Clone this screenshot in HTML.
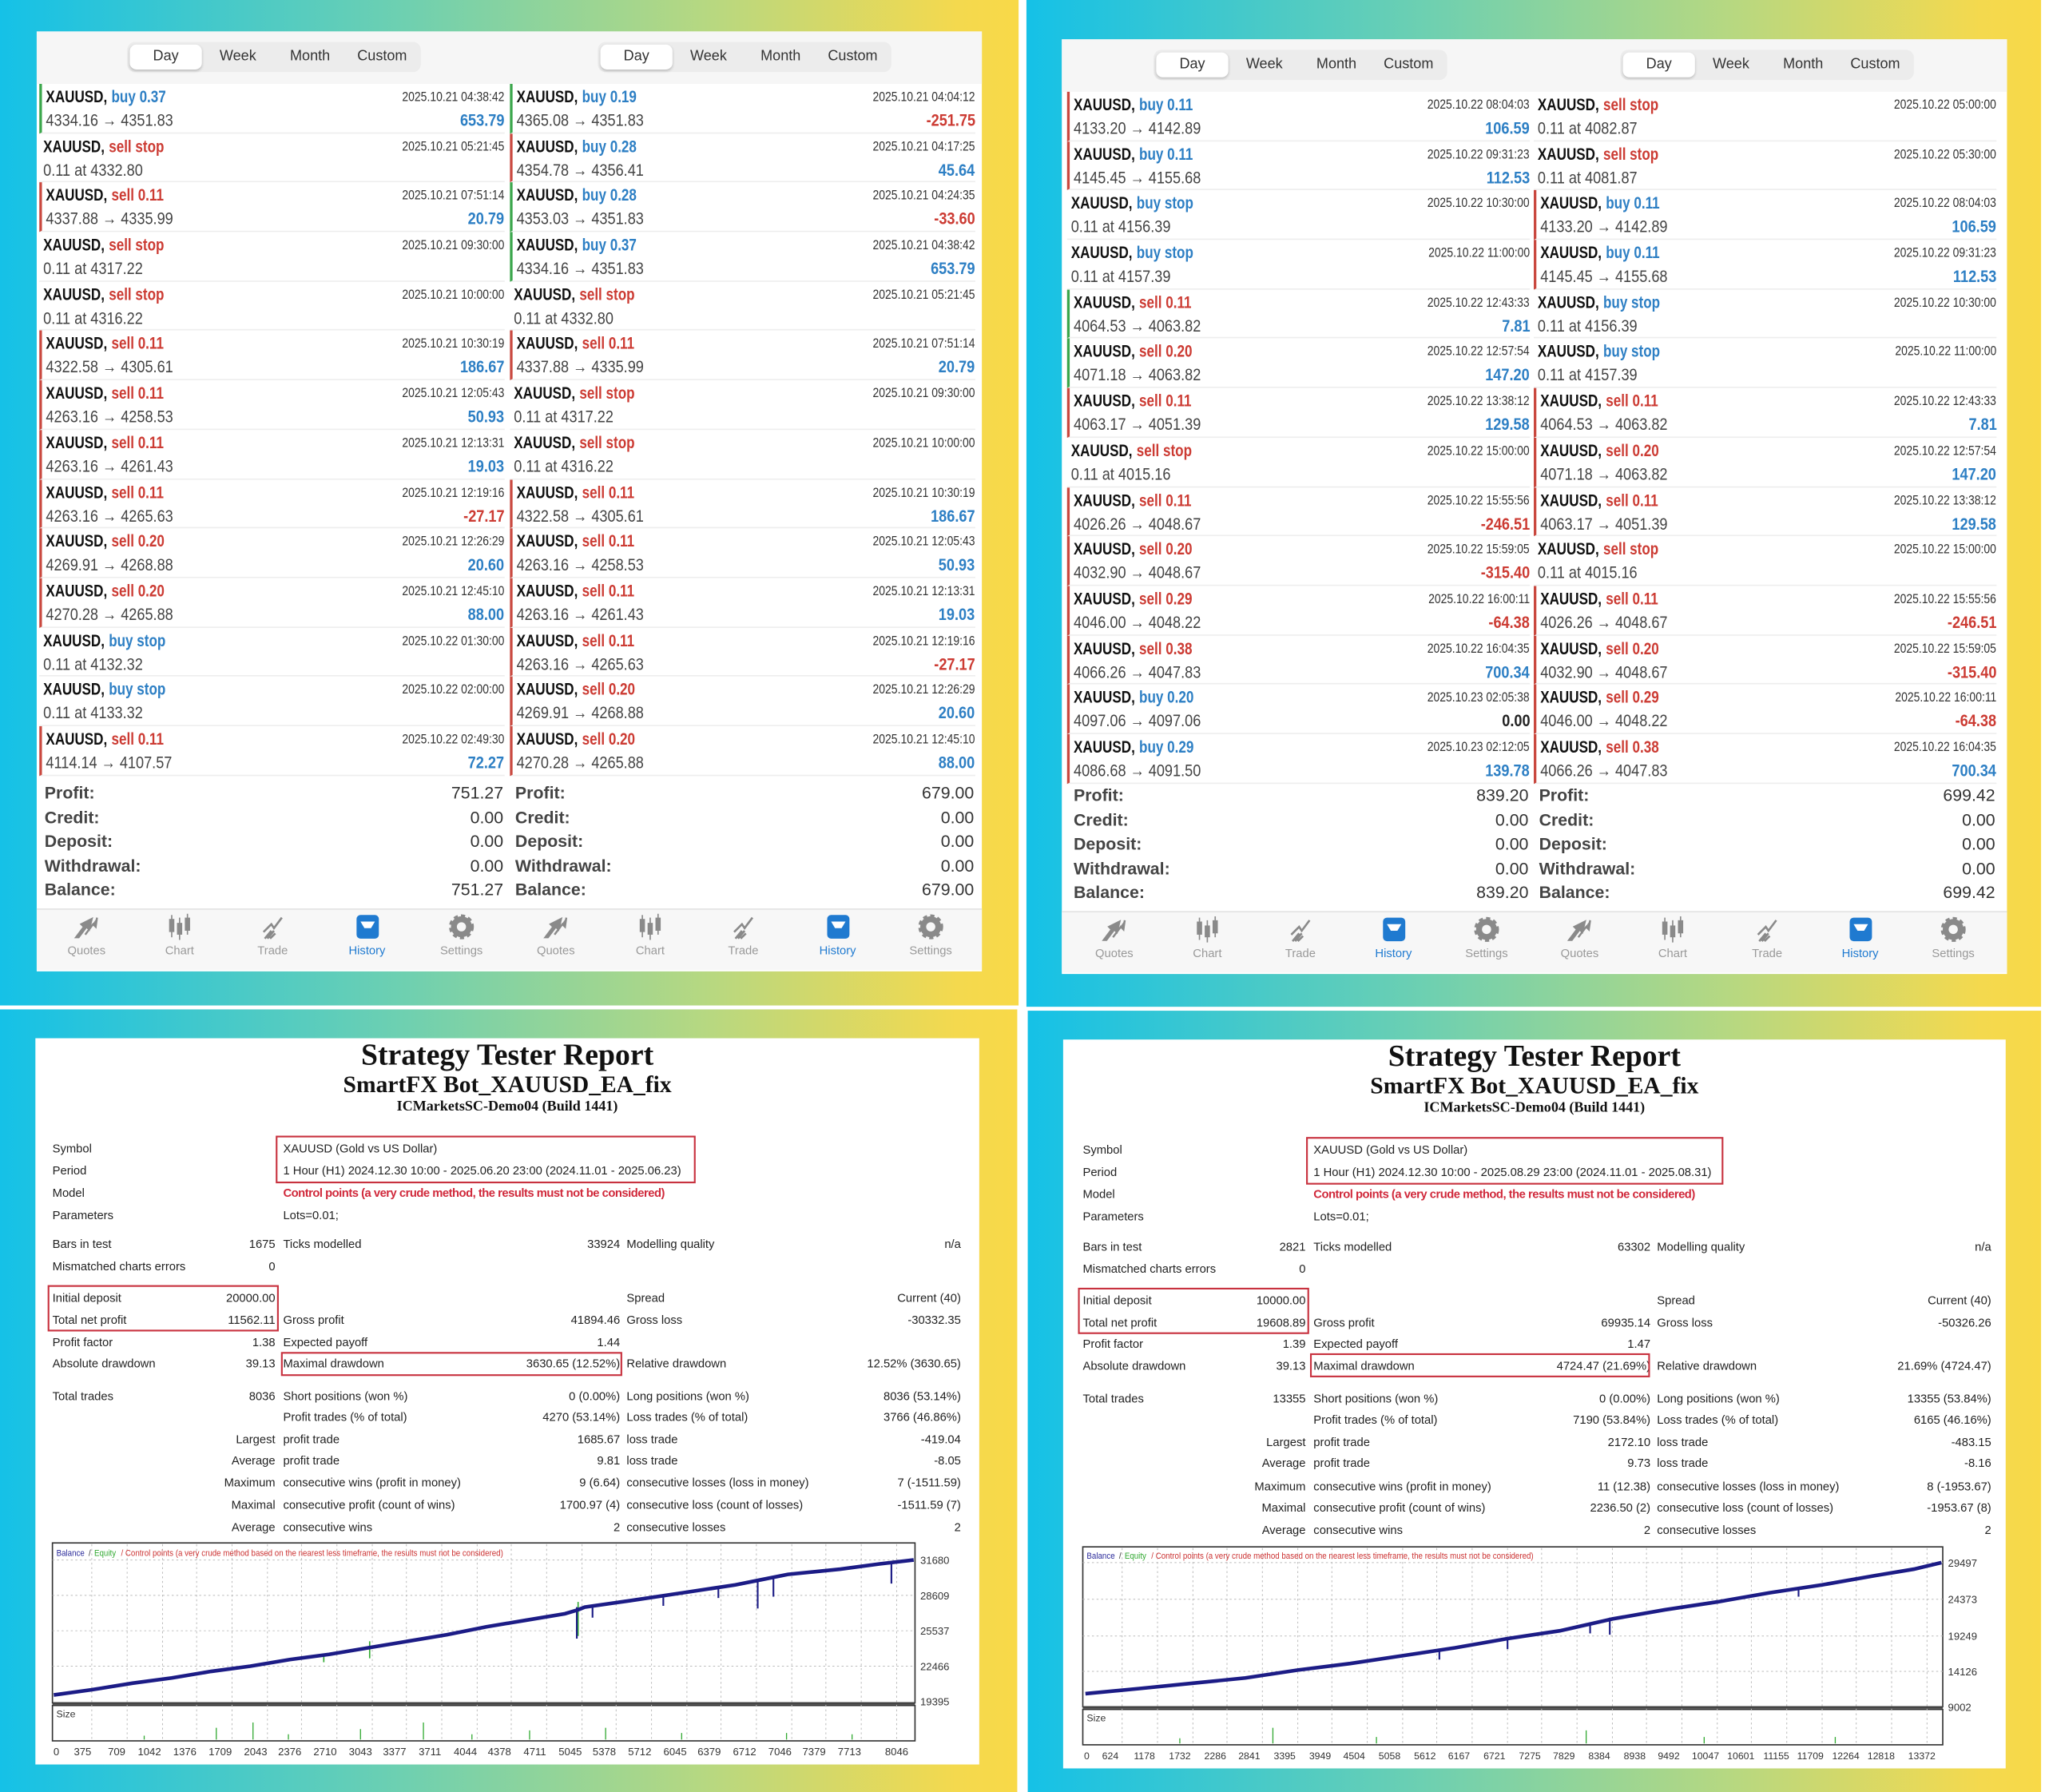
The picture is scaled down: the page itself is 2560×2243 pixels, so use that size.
<!DOCTYPE html>
<html><head><meta charset="utf-8">
<style>
*{margin:0;padding:0;box-sizing:border-box}
body{width:2560px;height:2243px;overflow:hidden;background:#fff}
#root{position:absolute;left:0;top:0;width:1560px;height:1367px;transform:scale(1.641026,1.640820);transform-origin:0 0;font-family:"Liberation Sans",sans-serif}
.q{position:absolute;background:linear-gradient(90deg,#15c1e7 0%,#22c3df 6%,#6fd0b0 40%,#b8d880 70%,#f4d94e 94%,#f8d948 100%)}
.pan{position:absolute;background:#fff}
.tabs{position:absolute;height:23px;width:224px;background:#ececec;border-radius:6px;display:flex;font-size:11px;color:#333;padding:2px}
.tabs span{flex:1;text-align:center;line-height:19px}
.tabs span:first-child{background:#fff;border-radius:5px;box-shadow:0 1px 2px rgba(0,0,0,.2)}
.col{position:absolute}
.r{position:relative;height:37.7px;border-bottom:1px solid #eee;font-size:13px;line-height:17px;padding:1px 0 0 3px;color:#444;white-space:nowrap}
.r.g{border-left:2px solid #3aa64b}.r.x{border-left:2px solid #c9483f}
.r b{color:#111;display:inline-block;transform:scaleX(.8);transform-origin:0 0;margin-right:-12px}
.r s{text-decoration:none;font-weight:bold;display:inline-block;transform:scaleX(.8);transform-origin:0 0}
.B{color:#2d7fc4}.R{color:#cc3b33}
.r i{position:absolute;right:0;top:2px;font-style:normal;font-size:10px;color:#333;transform:scaleX(.85);transform-origin:100% 0}
.r p{margin-top:1px;transform:scaleX(.85);transform-origin:0 0}
.r u{position:absolute;right:0;top:19px;text-decoration:none;font-weight:bold;transform:scaleX(.85);transform-origin:100% 0}
.sum{position:absolute;font-size:13px;color:#333}
.sum div{position:relative;height:18.5px;line-height:18.5px;font-weight:bold;color:#444}
.sum div span{position:absolute;right:0;font-weight:normal;color:#333}
.nav{position:absolute;height:47px;background:#f7f7f7;border-top:1px solid #e2e2e2}
.ni{position:absolute;top:4px;width:50px;margin-left:-25px;text-align:center;font-size:9px;color:#999}
.ni svg{display:block;margin:0 auto 3px}
.ni.h{color:#1f7ad0}
.rep{position:absolute;background:#fff}
.tt{position:absolute;left:0;width:100%;text-align:center;font-family:"Liberation Serif",serif;font-weight:bold;color:#111}
.tb{position:absolute;width:693px;font-size:9px;color:#222}
.rw{position:absolute;left:0;width:693px;height:12px;line-height:12px;white-space:nowrap}
.rw span{position:absolute}
.a{left:0}.av{right:523px}.b{left:176px}.bv{right:260px}.c{left:438px}.cv{right:0}
.red{color:#d0283a;font-weight:bold;letter-spacing:-0.3px}
</style></head><body><div id="root">
<div class="q" style="left:0;top:0;width:777px;height:767px"></div>
<div class="q" style="left:783px;top:0;width:774px;height:768px"></div>
<div class="q" style="left:0;top:770px;width:776px;height:597px"></div>
<div class="q" style="left:784px;top:771px;width:773px;height:596px"></div>

<!-- TOP LEFT -->
<div class="pan" style="left:28px;top:24px;width:721px;height:717px">
<div style="position:absolute;left:0;top:0;width:721px;height:40px;background:#f6f6f6"></div>
</div>
<div class="tabs" style="left:97px;top:32px"><span>Day</span><span>Week</span><span>Month</span><span>Custom</span></div>
<div class="tabs" style="left:456px;top:32px"><span>Day</span><span>Week</span><span>Month</span><span>Custom</span></div>

<div class="col" style="left:30px;top:64px;width:355px">
<div class="r g"><b>XAUUSD,</b> <s class="B">buy 0.37</s><i>2025.10.21 04:38:42</i><p>4334.16 → 4351.83</p><u class="B">653.79</u></div>
<div class="r"><b>XAUUSD,</b> <s class="R">sell stop</s><i>2025.10.21 05:21:45</i><p>0.11 at 4332.80</p></div>
<div class="r x"><b>XAUUSD,</b> <s class="R">sell 0.11</s><i>2025.10.21 07:51:14</i><p>4337.88 → 4335.99</p><u class="B">20.79</u></div>
<div class="r"><b>XAUUSD,</b> <s class="R">sell stop</s><i>2025.10.21 09:30:00</i><p>0.11 at 4317.22</p></div>
<div class="r"><b>XAUUSD,</b> <s class="R">sell stop</s><i>2025.10.21 10:00:00</i><p>0.11 at 4316.22</p></div>
<div class="r x"><b>XAUUSD,</b> <s class="R">sell 0.11</s><i>2025.10.21 10:30:19</i><p>4322.58 → 4305.61</p><u class="B">186.67</u></div>
<div class="r x"><b>XAUUSD,</b> <s class="R">sell 0.11</s><i>2025.10.21 12:05:43</i><p>4263.16 → 4258.53</p><u class="B">50.93</u></div>
<div class="r x"><b>XAUUSD,</b> <s class="R">sell 0.11</s><i>2025.10.21 12:13:31</i><p>4263.16 → 4261.43</p><u class="B">19.03</u></div>
<div class="r x"><b>XAUUSD,</b> <s class="R">sell 0.11</s><i>2025.10.21 12:19:16</i><p>4263.16 → 4265.63</p><u class="R">-27.17</u></div>
<div class="r x"><b>XAUUSD,</b> <s class="R">sell 0.20</s><i>2025.10.21 12:26:29</i><p>4269.91 → 4268.88</p><u class="B">20.60</u></div>
<div class="r x"><b>XAUUSD,</b> <s class="R">sell 0.20</s><i>2025.10.21 12:45:10</i><p>4270.28 → 4265.88</p><u class="B">88.00</u></div>
<div class="r"><b>XAUUSD,</b> <s class="B">buy stop</s><i>2025.10.22 01:30:00</i><p>0.11 at 4132.32</p></div>
<div class="r"><b>XAUUSD,</b> <s class="B">buy stop</s><i>2025.10.22 02:00:00</i><p>0.11 at 4133.32</p></div>
<div class="r x"><b>XAUUSD,</b> <s class="R">sell 0.11</s><i>2025.10.22 02:49:30</i><p>4114.14 → 4107.57</p><u class="B">72.27</u></div>
</div>
<div class="col" style="left:389px;top:64px;width:355px">
<div class="r g"><b>XAUUSD,</b> <s class="B">buy 0.19</s><i>2025.10.21 04:04:12</i><p>4365.08 → 4351.83</p><u class="R">-251.75</u></div>
<div class="r x"><b>XAUUSD,</b> <s class="B">buy 0.28</s><i>2025.10.21 04:17:25</i><p>4354.78 → 4356.41</p><u class="B">45.64</u></div>
<div class="r g"><b>XAUUSD,</b> <s class="B">buy 0.28</s><i>2025.10.21 04:24:35</i><p>4353.03 → 4351.83</p><u class="R">-33.60</u></div>
<div class="r g"><b>XAUUSD,</b> <s class="B">buy 0.37</s><i>2025.10.21 04:38:42</i><p>4334.16 → 4351.83</p><u class="B">653.79</u></div>
<div class="r"><b>XAUUSD,</b> <s class="R">sell stop</s><i>2025.10.21 05:21:45</i><p>0.11 at 4332.80</p></div>
<div class="r x"><b>XAUUSD,</b> <s class="R">sell 0.11</s><i>2025.10.21 07:51:14</i><p>4337.88 → 4335.99</p><u class="B">20.79</u></div>
<div class="r"><b>XAUUSD,</b> <s class="R">sell stop</s><i>2025.10.21 09:30:00</i><p>0.11 at 4317.22</p></div>
<div class="r"><b>XAUUSD,</b> <s class="R">sell stop</s><i>2025.10.21 10:00:00</i><p>0.11 at 4316.22</p></div>
<div class="r x"><b>XAUUSD,</b> <s class="R">sell 0.11</s><i>2025.10.21 10:30:19</i><p>4322.58 → 4305.61</p><u class="B">186.67</u></div>
<div class="r x"><b>XAUUSD,</b> <s class="R">sell 0.11</s><i>2025.10.21 12:05:43</i><p>4263.16 → 4258.53</p><u class="B">50.93</u></div>
<div class="r x"><b>XAUUSD,</b> <s class="R">sell 0.11</s><i>2025.10.21 12:13:31</i><p>4263.16 → 4261.43</p><u class="B">19.03</u></div>
<div class="r x"><b>XAUUSD,</b> <s class="R">sell 0.11</s><i>2025.10.21 12:19:16</i><p>4263.16 → 4265.63</p><u class="R">-27.17</u></div>
<div class="r x"><b>XAUUSD,</b> <s class="R">sell 0.20</s><i>2025.10.21 12:26:29</i><p>4269.91 → 4268.88</p><u class="B">20.60</u></div>
<div class="r x"><b>XAUUSD,</b> <s class="R">sell 0.20</s><i>2025.10.21 12:45:10</i><p>4270.28 → 4265.88</p><u class="B">88.00</u></div>
</div>
<div class="sum" style="left:34px;top:596px;width:350px"><div>Profit:<span>751.27</span></div><div>Credit:<span>0.00</span></div><div>Deposit:<span>0.00</span></div><div>Withdrawal:<span>0.00</span></div><div>Balance:<span>751.27</span></div></div>
<div class="sum" style="left:393px;top:596px;width:350px"><div>Profit:<span>679.00</span></div><div>Credit:<span>0.00</span></div><div>Deposit:<span>0.00</span></div><div>Withdrawal:<span>0.00</span></div><div>Balance:<span>679.00</span></div></div>

<!-- TOP RIGHT -->
<div class="pan" style="left:810px;top:30px;width:721px;height:713px">
<div style="position:absolute;left:0;top:0;width:721px;height:40px;background:#f6f6f6"></div>
</div>
<div class="tabs" style="left:880px;top:38px"><span>Day</span><span>Week</span><span>Month</span><span>Custom</span></div>
<div class="tabs" style="left:1236px;top:38px"><span>Day</span><span>Week</span><span>Month</span><span>Custom</span></div>

<div class="col" style="left:814px;top:70px;width:353px">
<div class="r x"><b>XAUUSD,</b> <s class="B">buy 0.11</s><i>2025.10.22 08:04:03</i><p>4133.20 → 4142.89</p><u class="B">106.59</u></div>
<div class="r x"><b>XAUUSD,</b> <s class="B">buy 0.11</s><i>2025.10.22 09:31:23</i><p>4145.45 → 4155.68</p><u class="B">112.53</u></div>
<div class="r"><b>XAUUSD,</b> <s class="B">buy stop</s><i>2025.10.22 10:30:00</i><p>0.11 at 4156.39</p></div>
<div class="r"><b>XAUUSD,</b> <s class="B">buy stop</s><i>2025.10.22 11:00:00</i><p>0.11 at 4157.39</p></div>
<div class="r g"><b>XAUUSD,</b> <s class="R">sell 0.11</s><i>2025.10.22 12:43:33</i><p>4064.53 → 4063.82</p><u class="B">7.81</u></div>
<div class="r g"><b>XAUUSD,</b> <s class="R">sell 0.20</s><i>2025.10.22 12:57:54</i><p>4071.18 → 4063.82</p><u class="B">147.20</u></div>
<div class="r x"><b>XAUUSD,</b> <s class="R">sell 0.11</s><i>2025.10.22 13:38:12</i><p>4063.17 → 4051.39</p><u class="B">129.58</u></div>
<div class="r"><b>XAUUSD,</b> <s class="R">sell stop</s><i>2025.10.22 15:00:00</i><p>0.11 at 4015.16</p></div>
<div class="r x"><b>XAUUSD,</b> <s class="R">sell 0.11</s><i>2025.10.22 15:55:56</i><p>4026.26 → 4048.67</p><u class="R">-246.51</u></div>
<div class="r x"><b>XAUUSD,</b> <s class="R">sell 0.20</s><i>2025.10.22 15:59:05</i><p>4032.90 → 4048.67</p><u class="R">-315.40</u></div>
<div class="r x"><b>XAUUSD,</b> <s class="R">sell 0.29</s><i>2025.10.22 16:00:11</i><p>4046.00 → 4048.22</p><u class="R">-64.38</u></div>
<div class="r x"><b>XAUUSD,</b> <s class="R">sell 0.38</s><i>2025.10.22 16:04:35</i><p>4066.26 → 4047.83</p><u class="B">700.34</u></div>
<div class="r x"><b>XAUUSD,</b> <s class="B">buy 0.20</s><i>2025.10.23 02:05:38</i><p>4097.06 → 4097.06</p><u style="color:#222">0.00</u></div>
<div class="r x"><b>XAUUSD,</b> <s class="B">buy 0.29</s><i>2025.10.23 02:12:05</i><p>4086.68 → 4091.50</p><u class="B">139.78</u></div>
</div>
<div class="col" style="left:1170px;top:70px;width:353px">
<div class="r"><b>XAUUSD,</b> <s class="R">sell stop</s><i>2025.10.22 05:00:00</i><p>0.11 at 4082.87</p></div>
<div class="r"><b>XAUUSD,</b> <s class="R">sell stop</s><i>2025.10.22 05:30:00</i><p>0.11 at 4081.87</p></div>
<div class="r x"><b>XAUUSD,</b> <s class="B">buy 0.11</s><i>2025.10.22 08:04:03</i><p>4133.20 → 4142.89</p><u class="B">106.59</u></div>
<div class="r x"><b>XAUUSD,</b> <s class="B">buy 0.11</s><i>2025.10.22 09:31:23</i><p>4145.45 → 4155.68</p><u class="B">112.53</u></div>
<div class="r"><b>XAUUSD,</b> <s class="B">buy stop</s><i>2025.10.22 10:30:00</i><p>0.11 at 4156.39</p></div>
<div class="r"><b>XAUUSD,</b> <s class="B">buy stop</s><i>2025.10.22 11:00:00</i><p>0.11 at 4157.39</p></div>
<div class="r x"><b>XAUUSD,</b> <s class="R">sell 0.11</s><i>2025.10.22 12:43:33</i><p>4064.53 → 4063.82</p><u class="B">7.81</u></div>
<div class="r x"><b>XAUUSD,</b> <s class="R">sell 0.20</s><i>2025.10.22 12:57:54</i><p>4071.18 → 4063.82</p><u class="B">147.20</u></div>
<div class="r x"><b>XAUUSD,</b> <s class="R">sell 0.11</s><i>2025.10.22 13:38:12</i><p>4063.17 → 4051.39</p><u class="B">129.58</u></div>
<div class="r"><b>XAUUSD,</b> <s class="R">sell stop</s><i>2025.10.22 15:00:00</i><p>0.11 at 4015.16</p></div>
<div class="r x"><b>XAUUSD,</b> <s class="R">sell 0.11</s><i>2025.10.22 15:55:56</i><p>4026.26 → 4048.67</p><u class="R">-246.51</u></div>
<div class="r x"><b>XAUUSD,</b> <s class="R">sell 0.20</s><i>2025.10.22 15:59:05</i><p>4032.90 → 4048.67</p><u class="R">-315.40</u></div>
<div class="r x"><b>XAUUSD,</b> <s class="R">sell 0.29</s><i>2025.10.22 16:00:11</i><p>4046.00 → 4048.22</p><u class="R">-64.38</u></div>
<div class="r x"><b>XAUUSD,</b> <s class="R">sell 0.38</s><i>2025.10.22 16:04:35</i><p>4066.26 → 4047.83</p><u class="B">700.34</u></div>
</div>
<div class="sum" style="left:819px;top:598px;width:347px"><div>Profit:<span>839.20</span></div><div>Credit:<span>0.00</span></div><div>Deposit:<span>0.00</span></div><div>Withdrawal:<span>0.00</span></div><div>Balance:<span>839.20</span></div></div>
<div class="sum" style="left:1174px;top:598px;width:348px"><div>Profit:<span>699.42</span></div><div>Credit:<span>0.00</span></div><div>Deposit:<span>0.00</span></div><div>Withdrawal:<span>0.00</span></div><div>Balance:<span>699.42</span></div></div>

<!-- NAV BARS -->
<div class="nav" style="left:28px;top:693px;width:721px"></div>
<div class="nav" style="left:810px;top:695px;width:721px"></div>
<svg width="0" height="0" style="position:absolute"><defs>
<g id="iq"><path d="M2 18 L8 10 L6 8 L14 4 L12 12 L10 10 L4 18Z M9 16 L15 8 L17 10 L18 3" fill="#8a8a8a" stroke="#8a8a8a" stroke-width="1.5"/></g>
<g id="ic" fill="#8a8a8a"><rect x="2" y="4" width="4" height="10"/><rect x="8" y="7" width="4" height="9"/><rect x="14" y="3" width="4" height="10"/><rect x="3.5" y="1" width="1" height="17"/><rect x="9.5" y="3" width="1" height="17"/><rect x="15.5" y="0" width="1" height="16"/></g>
<g id="it" fill="none" stroke="#8a8a8a" stroke-width="1.6"><path d="M3 14 L9 8 L11 11 L17 3"/><path d="M4 19 L9 13 M6 19 L11 13 M8 19 L12 15"/></g>
<g id="ih"><rect x="2" y="1" width="17" height="18" rx="3" fill="#1f7ad0"/><path d="M5 6 L16 6 L13 11 L8 11Z" fill="#fff"/></g>
<g id="is"><circle cx="10" cy="10" r="8" fill="#8a8a8a" stroke="#8a8a8a" stroke-width="3" stroke-dasharray="3 2.3"/><circle cx="10" cy="10" r="3.5" fill="#f7f7f7"/></g>
</defs></svg>
<div class="ni" style="left:66px;top:697px"><svg width="20" height="20"><use href="#iq"/></svg>Quotes</div>
<div class="ni" style="left:137px;top:697px"><svg width="20" height="20"><use href="#ic"/></svg>Chart</div>
<div class="ni" style="left:208px;top:697px"><svg width="20" height="20"><use href="#it"/></svg>Trade</div>
<div class="ni h" style="left:280px;top:697px"><svg width="20" height="20"><use href="#ih"/></svg>History</div>
<div class="ni" style="left:352px;top:697px"><svg width="20" height="20"><use href="#is"/></svg>Settings</div>
<div class="ni" style="left:424px;top:697px"><svg width="20" height="20"><use href="#iq"/></svg>Quotes</div>
<div class="ni" style="left:496px;top:697px"><svg width="20" height="20"><use href="#ic"/></svg>Chart</div>
<div class="ni" style="left:567px;top:697px"><svg width="20" height="20"><use href="#it"/></svg>Trade</div>
<div class="ni h" style="left:639px;top:697px"><svg width="20" height="20"><use href="#ih"/></svg>History</div>
<div class="ni" style="left:710px;top:697px"><svg width="20" height="20"><use href="#is"/></svg>Settings</div>
<div class="ni" style="left:850px;top:699px"><svg width="20" height="20"><use href="#iq"/></svg>Quotes</div>
<div class="ni" style="left:921px;top:699px"><svg width="20" height="20"><use href="#ic"/></svg>Chart</div>
<div class="ni" style="left:992px;top:699px"><svg width="20" height="20"><use href="#it"/></svg>Trade</div>
<div class="ni h" style="left:1063px;top:699px"><svg width="20" height="20"><use href="#ih"/></svg>History</div>
<div class="ni" style="left:1134px;top:699px"><svg width="20" height="20"><use href="#is"/></svg>Settings</div>
<div class="ni" style="left:1205px;top:699px"><svg width="20" height="20"><use href="#iq"/></svg>Quotes</div>
<div class="ni" style="left:1276px;top:699px"><svg width="20" height="20"><use href="#ic"/></svg>Chart</div>
<div class="ni" style="left:1348px;top:699px"><svg width="20" height="20"><use href="#it"/></svg>Trade</div>
<div class="ni h" style="left:1419px;top:699px"><svg width="20" height="20"><use href="#ih"/></svg>History</div>
<div class="ni" style="left:1490px;top:699px"><svg width="20" height="20"><use href="#is"/></svg>Settings</div>

<!-- BOTTOM LEFT REPORT -->
<div class="rep" style="left:27px;top:792px;width:720px;height:554px">
<div class="tt" style="top:0;font-size:23px">Strategy Tester Report</div>
<div class="tt" style="top:25px;font-size:18px">SmartFX Bot_XAUUSD_EA_fix</div>
<div class="tt" style="top:46px;font-size:11px">ICMarketsSC-Demo04 (Build 1441)</div>
</div>
<div class="tb" style="left:40px;top:0">
<div class="rw" style="top:870px"><span class="a">Symbol</span><span class="b">XAUUSD (Gold vs US Dollar)</span></div>
<div class="rw" style="top:887px"><span class="a">Period</span><span class="b">1 Hour (H1) 2024.12.30 10:00 - 2025.06.20 23:00 (2024.11.01 - 2025.06.23)</span></div>
<div class="rw" style="top:904px"><span class="a">Model</span><span class="b red">Control points (a very crude method, the results must not be considered)</span></div>
<div class="rw" style="top:921px"><span class="a">Parameters</span><span class="b">Lots=0.01;</span></div>
<div class="rw" style="top:943px"><span class="a">Bars in test</span><span class="av">1675</span><span class="b">Ticks modelled</span><span class="bv">33924</span><span class="c">Modelling quality</span><span class="cv">n/a</span></div>
<div class="rw" style="top:960px"><span class="a">Mismatched charts errors</span><span class="av">0</span></div>
<div class="rw" style="top:984px"><span class="a">Initial deposit</span><span class="av">20000.00</span><span class="c">Spread</span><span class="cv">Current (40)</span></div>
<div class="rw" style="top:1001px"><span class="a">Total net profit</span><span class="av">11562.11</span><span class="b">Gross profit</span><span class="bv">41894.46</span><span class="c">Gross loss</span><span class="cv">-30332.35</span></div>
<div class="rw" style="top:1018px"><span class="a">Profit factor</span><span class="av">1.38</span><span class="b">Expected payoff</span><span class="bv">1.44</span></div>
<div class="rw" style="top:1034px"><span class="a">Absolute drawdown</span><span class="av">39.13</span><span class="b">Maximal drawdown</span><span class="bv">3630.65 (12.52%)</span><span class="c">Relative drawdown</span><span class="cv">12.52% (3630.65)</span></div>
<div class="rw" style="top:1059px"><span class="a">Total trades</span><span class="av">8036</span><span class="b">Short positions (won %)</span><span class="bv">0 (0.00%)</span><span class="c">Long positions (won %)</span><span class="cv">8036 (53.14%)</span></div>
<div class="rw" style="top:1075px"><span class="b">Profit trades (% of total)</span><span class="bv">4270 (53.14%)</span><span class="c">Loss trades (% of total)</span><span class="cv">3766 (46.86%)</span></div>
<div class="rw" style="top:1092px"><span class="av">Largest</span><span class="b">profit trade</span><span class="bv">1685.67</span><span class="c">loss trade</span><span class="cv">-419.04</span></div>
<div class="rw" style="top:1108px"><span class="av">Average</span><span class="b">profit trade</span><span class="bv">9.81</span><span class="c">loss trade</span><span class="cv">-8.05</span></div>
<div class="rw" style="top:1125px"><span class="av">Maximum</span><span class="b">consecutive wins (profit in money)</span><span class="bv">9 (6.64)</span><span class="c">consecutive losses (loss in money)</span><span class="cv">7 (-1511.59)</span></div>
<div class="rw" style="top:1142px"><span class="av">Maximal</span><span class="b">consecutive profit (count of wins)</span><span class="bv">1700.97 (4)</span><span class="c">consecutive loss (count of losses)</span><span class="cv">-1511.59 (7)</span></div>
<div class="rw" style="top:1159px"><span class="av">Average</span><span class="b">consecutive wins</span><span class="bv">2</span><span class="c">consecutive losses</span><span class="cv">2</span></div>
</div>

<!-- BOTTOM RIGHT REPORT -->
<div class="rep" style="left:811px;top:793px;width:719px;height:556px">
<div class="tt" style="top:0;font-size:23px">Strategy Tester Report</div>
<div class="tt" style="top:25px;font-size:18px">SmartFX Bot_XAUUSD_EA_fix</div>
<div class="tt" style="top:46px;font-size:11px">ICMarketsSC-Demo04 (Build 1441)</div>
</div>
<div class="tb" style="left:826px;top:0;width:691px">
<div class="rw" style="top:871px"><span class="a">Symbol</span><span class="b">XAUUSD (Gold vs US Dollar)</span></div>
<div class="rw" style="top:888px"><span class="a">Period</span><span class="b">1 Hour (H1) 2024.12.30 10:00 - 2025.08.29 23:00 (2024.11.01 - 2025.08.31)</span></div>
<div class="rw" style="top:905px"><span class="a">Model</span><span class="b red">Control points (a very crude method, the results must not be considered)</span></div>
<div class="rw" style="top:922px"><span class="a">Parameters</span><span class="b">Lots=0.01;</span></div>
<div class="rw" style="top:945px"><span class="a">Bars in test</span><span class="av">2821</span><span class="b">Ticks modelled</span><span class="bv">63302</span><span class="c">Modelling quality</span><span class="cv">n/a</span></div>
<div class="rw" style="top:962px"><span class="a">Mismatched charts errors</span><span class="av">0</span></div>
<div class="rw" style="top:986px"><span class="a">Initial deposit</span><span class="av">10000.00</span><span class="c">Spread</span><span class="cv">Current (40)</span></div>
<div class="rw" style="top:1003px"><span class="a">Total net profit</span><span class="av">19608.89</span><span class="b">Gross profit</span><span class="bv">69935.14</span><span class="c">Gross loss</span><span class="cv">-50326.26</span></div>
<div class="rw" style="top:1019px"><span class="a">Profit factor</span><span class="av">1.39</span><span class="b">Expected payoff</span><span class="bv">1.47</span></div>
<div class="rw" style="top:1036px"><span class="a">Absolute drawdown</span><span class="av">39.13</span><span class="b">Maximal drawdown</span><span class="bv">4724.47 (21.69%)</span><span class="c">Relative drawdown</span><span class="cv">21.69% (4724.47)</span></div>
<div class="rw" style="top:1061px"><span class="a">Total trades</span><span class="av">13355</span><span class="b">Short positions (won %)</span><span class="bv">0 (0.00%)</span><span class="c">Long positions (won %)</span><span class="cv">13355 (53.84%)</span></div>
<div class="rw" style="top:1077px"><span class="b">Profit trades (% of total)</span><span class="bv">7190 (53.84%)</span><span class="c">Loss trades (% of total)</span><span class="cv">6165 (46.16%)</span></div>
<div class="rw" style="top:1094px"><span class="av">Largest</span><span class="b">profit trade</span><span class="bv">2172.10</span><span class="c">loss trade</span><span class="cv">-483.15</span></div>
<div class="rw" style="top:1110px"><span class="av">Average</span><span class="b">profit trade</span><span class="bv">9.73</span><span class="c">loss trade</span><span class="cv">-8.16</span></div>
<div class="rw" style="top:1128px"><span class="av">Maximum</span><span class="b">consecutive wins (profit in money)</span><span class="bv">11 (12.38)</span><span class="c">consecutive losses (loss in money)</span><span class="cv">8 (-1953.67)</span></div>
<div class="rw" style="top:1144px"><span class="av">Maximal</span><span class="b">consecutive profit (count of wins)</span><span class="bv">2236.50 (2)</span><span class="c">consecutive loss (count of losses)</span><span class="cv">-1953.67 (8)</span></div>
<div class="rw" style="top:1161px"><span class="av">Average</span><span class="b">consecutive wins</span><span class="bv">2</span><span class="c">consecutive losses</span><span class="cv">2</span></div>
</div>

<!-- overlay: boxes and charts -->
<svg style="position:absolute;left:0;top:0" width="1560" height="1367" font-family="Liberation Sans, sans-serif">
<g fill="none" stroke="#c8323f" stroke-width="1.3">
<rect x="211" y="867" width="319" height="35"/><rect x="37" y="981" width="175" height="34"/><rect x="215" y="1032" width="259" height="17"/>
<rect x="997" y="868" width="317" height="35"/><rect x="823" y="983" width="175" height="34"/><rect x="1000" y="1033" width="258" height="17"/>
</g>
<!-- BL chart -->
<g>
<rect x="40" y="1177" width="658" height="122" fill="#fff" stroke="#333" stroke-width="1"/>
<rect x="40" y="1301" width="658" height="27" fill="#fff" stroke="#333" stroke-width="1"/>
<line x1="40" y1="1299.5" x2="698" y2="1299.5" stroke="#444" stroke-width="2"/>
<g stroke="#bbb" stroke-width="0.6" stroke-dasharray="1.5 2">
<line x1="40" y1="1190" x2="698" y2="1190"/><line x1="40" y1="1217" x2="698" y2="1217"/><line x1="40" y1="1244" x2="698" y2="1244"/><line x1="40" y1="1271" x2="698" y2="1271"/>
<path d="M70 1178V1328M97 1178V1328M124 1178V1328M150 1178V1328M177 1178V1328M204 1178V1328M230 1178V1328M257 1178V1328M284 1178V1328M310 1178V1328M337 1178V1328M364 1178V1328M390 1178V1328M417 1178V1328M444 1178V1328M470 1178V1328M497 1178V1328M524 1178V1328M550 1178V1328M577 1178V1328M604 1178V1328M630 1178V1328M657 1178V1328M684 1178V1328"/>
</g>
<g font-size="7" transform="translate(43 1187) scale(.85 1)"><text x="0" y="0" fill="#2a2a9a">Balance</text><text x="29" y="0" fill="#333">/</text><text x="34" y="0" fill="#3a3">Equity</text><text x="58" y="0" fill="#c33">/ Control points (a very crude method based on the nearest less timeframe, the results must not be considered)</text></g>
<g stroke="#3a3" stroke-width="1"><line x1="282" y1="1252" x2="282" y2="1265"/><line x1="441" y1="1222" x2="441" y2="1248"/><line x1="247" y1="1262" x2="247" y2="1268"/></g>
<polyline fill="none" stroke="#1c1c86" stroke-width="2.8" points="41,1293 70,1289 101,1284 131,1280 161,1275 191,1271 221,1266 251,1262 281,1257 311,1252 341,1247 371,1241 401,1236 431,1231 441,1228 446,1226 481,1221 521,1215 561,1209 581,1205 601,1201 641,1197 671,1193 697,1190"/>
<g stroke="#1c1c86" stroke-width="1.3"><line x1="440" y1="1226" x2="440" y2="1250"/><line x1="452" y1="1225" x2="452" y2="1234"/><line x1="578" y1="1205" x2="578" y2="1227"/><line x1="590" y1="1203" x2="590" y2="1218"/><line x1="548" y1="1210" x2="548" y2="1219"/><line x1="680" y1="1192" x2="680" y2="1208"/><line x1="506" y1="1218" x2="506" y2="1225"/></g>
<g stroke="#3a3" stroke-width="0.8"><path d="M165 1327V1318M193 1327V1314M275 1327V1319M323 1327V1314M404 1327V1320M462 1327V1318M110 1327V1324M220 1327V1323M360 1327V1323M520 1327V1322M600 1327V1322M650 1327V1323"/></g>
<text x="43" y="1310" font-size="7.5" fill="#333">Size</text>
<g font-size="8" fill="#333"><text x="702" y="1193">31680</text><text x="702" y="1220">28609</text><text x="702" y="1247">25537</text><text x="702" y="1274">22466</text><text x="702" y="1301">19395</text></g>
<g font-size="8" fill="#333" text-anchor="middle"><text x="43" y="1339">0</text><text x="63" y="1339">375</text><text x="89" y="1339">709</text><text x="114" y="1339">1042</text><text x="141" y="1339">1376</text><text x="168" y="1339">1709</text><text x="195" y="1339">2043</text><text x="221" y="1339">2376</text><text x="248" y="1339">2710</text><text x="275" y="1339">3043</text><text x="301" y="1339">3377</text><text x="328" y="1339">3711</text><text x="355" y="1339">4044</text><text x="381" y="1339">4378</text><text x="408" y="1339">4711</text><text x="435" y="1339">5045</text><text x="461" y="1339">5378</text><text x="488" y="1339">5712</text><text x="515" y="1339">6045</text><text x="541" y="1339">6379</text><text x="568" y="1339">6712</text><text x="595" y="1339">7046</text><text x="621" y="1339">7379</text><text x="648" y="1339">7713</text><text x="684" y="1339">8046</text></g>
</g>
<!-- BR chart -->
<g>
<rect x="826" y="1180" width="656" height="122" fill="#fff" stroke="#333" stroke-width="1"/>
<rect x="826" y="1304" width="656" height="27" fill="#fff" stroke="#333" stroke-width="1"/>
<line x1="826" y1="1302.5" x2="1482" y2="1302.5" stroke="#444" stroke-width="2"/>
<g stroke="#bbb" stroke-width="0.6" stroke-dasharray="1.5 2">
<line x1="826" y1="1192" x2="1482" y2="1192"/><line x1="826" y1="1220" x2="1482" y2="1220"/><line x1="826" y1="1248" x2="1482" y2="1248"/><line x1="826" y1="1275" x2="1482" y2="1275"/>
<path d="M856 1181V1331M883 1181V1331M910 1181V1331M936 1181V1331M963 1181V1331M990 1181V1331M1016 1181V1331M1043 1181V1331M1070 1181V1331M1096 1181V1331M1123 1181V1331M1150 1181V1331M1176 1181V1331M1203 1181V1331M1230 1181V1331M1256 1181V1331M1283 1181V1331M1310 1181V1331M1336 1181V1331M1363 1181V1331M1390 1181V1331M1416 1181V1331M1443 1181V1331M1470 1181V1331"/>
</g>
<g font-size="7" transform="translate(829 1189) scale(.85 1)"><text x="0" y="0" fill="#2a2a9a">Balance</text><text x="29" y="0" fill="#333">/</text><text x="34" y="0" fill="#3a3">Equity</text><text x="58" y="0" fill="#c33">/ Control points (a very crude method based on the nearest less timeframe, the results must not be considered)</text></g>
<polyline fill="none" stroke="#1c1c86" stroke-width="2.8" points="828,1292 870,1288 910,1284 950,1280 990,1274 1030,1269 1070,1263 1110,1257 1150,1250 1190,1244 1230,1235 1270,1228 1310,1222 1350,1215 1390,1209 1430,1202 1460,1197 1481,1192"/>
<g stroke="#1c1c86" stroke-width="1.3"><line x1="1150" y1="1249" x2="1150" y2="1258"/><line x1="1228" y1="1234" x2="1228" y2="1247"/><line x1="1213" y1="1238" x2="1213" y2="1246"/><line x1="1098" y1="1259" x2="1098" y2="1266"/><line x1="1372" y1="1211" x2="1372" y2="1218"/></g>
<g stroke="#3a3" stroke-width="0.8"><path d="M971 1330V1318M1210 1330V1320M900 1330V1326M1050 1330V1325M1300 1330V1325M1400 1330V1325"/></g>
<text x="829" y="1313" font-size="7.5" fill="#333">Size</text>
<g font-size="8" fill="#333"><text x="1486" y="1195">29497</text><text x="1486" y="1223">24373</text><text x="1486" y="1251">19249</text><text x="1486" y="1278">14126</text><text x="1486" y="1305">9002</text></g>
<g font-size="7.5" fill="#333" text-anchor="middle"><text x="829" y="1342">0</text><text x="847" y="1342">624</text><text x="873" y="1342">1178</text><text x="900" y="1342">1732</text><text x="927" y="1342">2286</text><text x="953" y="1342">2841</text><text x="980" y="1342">3395</text><text x="1007" y="1342">3949</text><text x="1033" y="1342">4504</text><text x="1060" y="1342">5058</text><text x="1087" y="1342">5612</text><text x="1113" y="1342">6167</text><text x="1140" y="1342">6721</text><text x="1167" y="1342">7275</text><text x="1193" y="1342">7829</text><text x="1220" y="1342">8384</text><text x="1247" y="1342">8938</text><text x="1273" y="1342">9492</text><text x="1301" y="1342">10047</text><text x="1328" y="1342">10601</text><text x="1355" y="1342">11155</text><text x="1381" y="1342">11709</text><text x="1408" y="1342">12264</text><text x="1435" y="1342">12818</text><text x="1466" y="1342">13372</text></g>
</g>
</svg>
</div></body></html>
